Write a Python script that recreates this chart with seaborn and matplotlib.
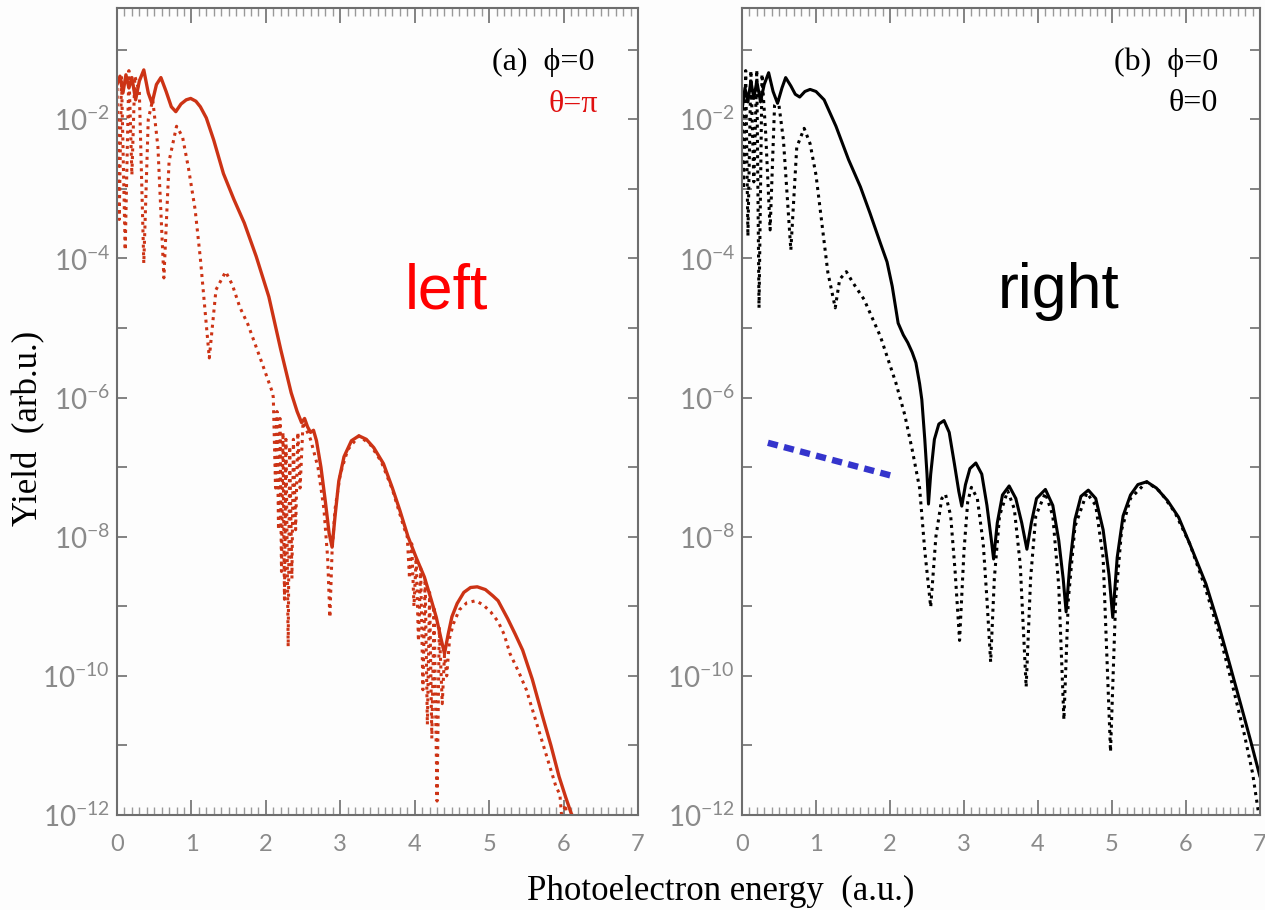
import numpy as np
import pandas as pd
import matplotlib
matplotlib.use("Agg")
import matplotlib.pyplot as plt
import matplotlib.ticker as mticker
import seaborn as sns

# ---------------- data: photoelectron energy (a.u.) and log10(yield) ----------------
# panel (a): phi = 0, theta = pi
a_solid_x = [0.00, 0.04, 0.08, 0.12, 0.16, 0.20, 0.25, 0.30, 0.36, 0.42, 0.47, 0.53, 0.59, 0.66,
             0.73, 0.79, 0.86, 0.93, 0.99, 1.06, 1.12, 1.20, 1.30, 1.43, 1.57, 1.71, 1.87, 2.04,
             2.20, 2.34, 2.42, 2.48, 2.52, 2.56, 2.60, 2.64, 2.68, 2.74, 2.80, 2.85, 2.89, 2.93,
             2.98, 3.05, 3.15, 3.25, 3.35, 3.45, 3.58, 3.70, 3.80, 3.91, 4.02, 4.13, 4.22, 4.29,
             4.35, 4.40, 4.45, 4.50, 4.57, 4.66, 4.75, 4.84, 4.95, 5.05, 5.12, 5.25, 5.35, 5.45,
             5.58, 5.72, 5.83, 5.94, 6.03, 6.11, 6.15]
a_solid_log = [-1.50, -1.38, -1.62, -1.36, -1.55, -1.40, -1.72, -1.45, -1.29, -1.62, -1.77, -1.50,
               -1.40, -1.60, -1.82, -1.89, -1.78, -1.72, -1.70, -1.74, -1.82, -1.98, -2.30, -2.78,
               -3.15, -3.49, -3.97, -4.55, -5.31, -5.93, -6.20, -6.36, -6.30, -6.42, -6.50, -6.47,
               -6.62, -7.00, -7.50, -7.95, -8.15, -7.70, -7.20, -6.85, -6.62, -6.55, -6.60, -6.72,
               -6.95, -7.30, -7.62, -8.00, -8.30, -8.58, -8.90, -9.16, -9.45, -9.68, -9.40, -9.15,
               -8.96, -8.80, -8.73, -8.72, -8.76, -8.85, -8.92, -9.18, -9.40, -9.63, -10.05, -10.59,
               -11.00, -11.45, -11.75, -12.00, -12.10]

a_dot_x = [0.00, 0.03, 0.06, 0.11, 0.16, 0.20, 0.24, 0.30, 0.36, 0.42, 0.48, 0.55, 0.63, 0.70,
           0.80, 0.88, 0.96, 1.05, 1.12, 1.24, 1.33, 1.46, 1.55, 1.65, 1.76, 1.93, 2.09,
           2.10, 2.13, 2.15, 2.17, 2.19, 2.21, 2.23, 2.25, 2.27, 2.30, 2.32, 2.35, 2.37, 2.40,
           2.43, 2.46, 2.50, 2.60, 2.70, 2.78, 2.83, 2.86, 2.89, 2.93, 3.00, 3.10, 3.25, 3.40,
           3.55, 3.70, 3.85, 3.90, 3.93, 3.96, 3.99, 4.02, 4.05, 4.08, 4.11, 4.14, 4.17, 4.20,
           4.23, 4.26, 4.30, 4.33, 4.37, 4.40, 4.43, 4.47, 4.52, 4.60, 4.70, 4.82, 4.92, 5.02,
           5.12, 5.20, 5.28, 5.40, 5.50, 5.60, 5.70, 5.80, 5.90, 5.95, 5.98, 6.02, 6.06, 6.12, 6.18]
a_dot_log = [-1.55, -3.44, -1.38, -3.88, -1.30, -2.80, -1.38, -1.60, -4.07, -2.00, -1.72, -2.40,
             -4.28, -2.60, -2.10, -2.25, -2.70, -3.30, -4.00, -5.43, -4.45, -4.19, -4.38, -4.70,
             -4.95, -5.45, -5.93,
             -6.00, -7.30, -6.20, -7.90, -6.30, -8.50, -6.50, -8.90, -6.60, -9.58, -6.70, -8.60,
             -6.60, -7.90, -6.50, -7.30, -6.35, -6.60, -7.00, -7.60, -8.30, -9.16, -8.20, -7.60,
             -7.10, -6.75, -6.55, -6.67, -6.92, -7.32, -7.85, -8.00, -8.60, -8.10, -9.00, -8.30,
             -9.50, -8.45, -10.20, -8.60, -10.70, -8.80, -10.90, -9.00, -11.80, -9.30, -10.40,
             -9.70, -10.00, -9.45, -9.25, -9.05, -8.95, -8.92, -8.98, -9.08, -9.22, -9.40, -9.68,
             -9.95, -10.20, -10.55, -10.90, -11.25, -11.60, -11.70, -12.10, -11.85, -12.10,
             -12.00, -12.10]

# panel (b): phi = 0, theta = 0
b_solid_x = [0.00, 0.04, 0.08, 0.12, 0.16, 0.20, 0.25, 0.30, 0.36, 0.42, 0.48, 0.54, 0.59, 0.66,
             0.72, 0.78, 0.85, 0.92, 1.00, 1.11, 1.27, 1.44, 1.60, 1.73, 1.87, 1.96, 2.03, 2.11,
             2.18, 2.24, 2.30, 2.35, 2.40, 2.43, 2.47, 2.50, 2.52, 2.55, 2.60, 2.66, 2.73, 2.80,
             2.87, 2.93, 2.97, 3.02, 3.08, 3.16, 3.24, 3.31, 3.37, 3.40, 3.45, 3.52, 3.61, 3.70,
             3.78, 3.85, 3.91, 3.98, 4.10, 4.20, 4.28, 4.34, 4.38, 4.43, 4.50, 4.58, 4.68, 4.78,
             4.88, 4.96, 5.01, 5.07, 5.15, 5.25, 5.35, 5.47, 5.60, 5.75, 5.90, 6.05, 6.27, 6.45,
             6.60, 6.75, 6.87, 7.00]
b_solid_log = [-1.87, -1.55, -1.75, -1.45, -1.70, -1.45, -1.75, -1.50, -1.33, -1.60, -1.77, -1.55,
               -1.40, -1.52, -1.64, -1.68, -1.60, -1.57, -1.60, -1.72, -2.10, -2.58, -2.97, -3.35,
               -3.78, -4.05, -4.40, -4.93, -5.10, -5.21, -5.35, -5.50, -5.80, -6.03, -6.60, -7.10,
               -7.53, -7.10, -6.60, -6.38, -6.33, -6.50, -6.95, -7.35, -7.56, -7.25, -7.02, -6.94,
               -7.10, -7.55, -8.05, -8.32, -7.80, -7.40, -7.27, -7.45, -7.80, -8.18, -7.80, -7.45,
               -7.32, -7.55, -8.05, -8.60, -9.08, -8.40, -7.75, -7.42, -7.33, -7.45, -7.90, -8.55,
               -9.16, -8.30, -7.70, -7.40, -7.25, -7.21, -7.30, -7.48, -7.72, -8.10, -8.68, -9.30,
               -9.87, -10.45, -10.92, -11.45]

b_dot_x = [0.00, 0.02, 0.05, 0.08, 0.12, 0.16, 0.20, 0.23, 0.27, 0.32, 0.38, 0.44, 0.49, 0.56,
           0.66, 0.74, 0.84, 0.92, 1.00, 1.08, 1.16, 1.26, 1.32, 1.41, 1.50, 1.65, 1.87, 2.08,
           2.20, 2.30, 2.40, 2.47, 2.55, 2.62, 2.70, 2.75, 2.82, 2.88, 2.94, 3.00, 3.05, 3.10,
           3.18, 3.26, 3.31, 3.36, 3.41, 3.48, 3.59, 3.68, 3.76, 3.84, 3.90, 3.97, 4.10, 4.20,
           4.28, 4.35, 4.41, 4.50, 4.66, 4.78, 4.88, 4.98, 5.05, 5.13, 5.25, 5.47, 5.65, 5.85,
           6.05, 6.25, 6.45, 6.62, 6.78, 6.90, 6.97, 7.00]
b_dot_log = [-1.60, -3.00, -1.30, -3.68, -1.30, -2.90, -1.29, -4.71, -1.35, -2.20, -3.59, -1.80,
             -1.72, -2.30, -3.88, -2.40, -2.13, -2.35, -2.80, -3.50, -4.20, -4.71, -4.30, -4.19,
             -4.35, -4.59, -5.12, -5.79, -6.25, -6.75, -7.30, -8.20, -9.01, -8.00, -7.45, -7.39,
             -7.70, -8.50, -9.49, -8.20, -7.50, -7.29, -7.45, -8.10, -8.90, -9.80, -8.60, -7.70,
             -7.34, -7.60, -8.40, -10.16, -8.60, -7.70, -7.37, -7.70, -8.70, -10.63, -8.90, -7.85,
             -7.37, -7.55, -8.30, -11.09, -8.90, -7.90, -7.45, -7.21, -7.35, -7.65, -8.10, -8.70,
             -9.40, -10.10, -10.80, -11.40, -11.90, -12.10]

# blue dashed guide in panel (b)
guide_x = [0.35, 2.08]
guide_log = [-6.65, -7.14]

# ---------------- styling ----------------
sns.set_style("white")
plt.rcParams["font.family"] = ["Lato", "DejaVu Sans"]
plt.rcParams["mathtext.fontset"] = "custom"
plt.rcParams["mathtext.rm"] = "Lato"

RED = "#cc3315"
SERIF = ["Liberation Serif", "DejaVu Serif"]
TICK_GRAY = "#8a8a8a"
SPINE_GRAY = "#6e6e6e"

fig = plt.figure(figsize=(12.65, 9.10), dpi=100, facecolor="#fdfdfd")
ax_a = fig.add_axes([117 / 1265, 1 - 815 / 910, 521 / 1265, 807 / 910])
ax_b = fig.add_axes([742 / 1265, 1 - 815 / 910, 518 / 1265, 807 / 910])


def frame(df_x, df_log):
    return pd.DataFrame({"energy": df_x, "yield": np.power(10.0, df_log)})


dot_style = dict(linestyle=(0, (1.0, 1.5)), linewidth=2.2, dash_capstyle="butt")

sns.lineplot(data=frame(a_dot_x, a_dot_log), x="energy", y="yield", ax=ax_a,
             color=RED, estimator=None, sort=False, **dot_style)
sns.lineplot(data=frame(a_solid_x, a_solid_log), x="energy", y="yield", ax=ax_a,
             color=RED, estimator=None, sort=False, linewidth=2.4)

sns.lineplot(data=frame(b_dot_x, b_dot_log), x="energy", y="yield", ax=ax_b,
             color="black", estimator=None, sort=False, **dot_style)
sns.lineplot(data=frame(b_solid_x, b_solid_log), x="energy", y="yield", ax=ax_b,
             color="black", estimator=None, sort=False, linewidth=2.2)
sns.lineplot(data=frame(guide_x, guide_log), x="energy", y="yield", ax=ax_b,
             color="#3434cc", estimator=None, sort=False, linewidth=4.6,
             linestyle=(0, (1.6, 1.0)), dash_capstyle="butt")


def sci_label(v, pos):
    e = int(round(np.log10(v)))
    if e % 2 == 0:
        return r"$\mathdefault{10^{%d}}$" % e
    return ""


for ax in (ax_a, ax_b):
    ax.set_yscale("log")
    ax.set_xlim(0, 7)
    ax.set_ylim(10 ** -12.0, 10 ** -0.40)
    ax.set_facecolor("#fdfdfd")
    ax.xaxis.set_major_locator(mticker.MultipleLocator(1))
    ax.xaxis.set_minor_locator(mticker.MultipleLocator(0.1))
    ax.yaxis.set_major_locator(mticker.FixedLocator([10.0 ** k for k in range(-12, 0)]))
    ax.yaxis.set_minor_locator(mticker.NullLocator())
    ax.yaxis.set_major_formatter(mticker.FuncFormatter(sci_label))
    ax.xaxis.set_major_formatter(mticker.FormatStrFormatter("%d"))
    ax.tick_params(axis="x", which="major", direction="in", top=True, bottom=True,
                   length=11, width=1.2, color=SPINE_GRAY, labelcolor=TICK_GRAY,
                   labelsize=17, pad=14)
    ax.tick_params(axis="x", which="minor", direction="in", top=True, bottom=True,
                   length=6, width=1.0, color="#999999")
    ax.tick_params(axis="y", which="major", direction="in", left=True, right=True,
                   length=7, width=1.2, color=SPINE_GRAY, labelcolor=TICK_GRAY,
                   labelsize=20, pad=5)
    for s in ax.spines.values():
        s.set_visible(True)
        s.set_color(SPINE_GRAY)
        s.set_linewidth(1.5)
    ax.set_xlabel("")
    ax.set_ylabel("")

# panel annotations
ax_a.text(0.917, 0.933, "(a)  ϕ=0", transform=ax_a.transAxes, ha="right", va="center",
          fontsize=23, family=SERIF, color="black")
ax_a.text(0.923, 0.880, "θ=π", transform=ax_a.transAxes, ha="right", va="center",
          fontsize=23, family=SERIF, color="#e01010")
ax_b.text(0.919, 0.933, "(b)  ϕ=0", transform=ax_b.transAxes, ha="right", va="center",
          fontsize=23, family=SERIF, color="black")
ax_b.text(0.919, 0.882, "θ=0", transform=ax_b.transAxes, ha="right", va="center",
          fontsize=23, family=SERIF, color="black")

ax_a.text(0.632, 0.628, "left", transform=ax_a.transAxes, ha="center", va="baseline",
          fontsize=45, family=["Liberation Sans", "DejaVu Sans"], color="#ff0000")
ax_b.text(0.612, 0.628, "right", transform=ax_b.transAxes, ha="center", va="baseline",
          fontsize=45, family=["Liberation Sans", "DejaVu Sans"], color="black")

# shared axis titles
fig.text(721 / 1265, 1 - 891 / 910, "Photoelectron energy  (a.u.)", ha="center", va="center",
         fontsize=25, family=SERIF, color="black")
fig.text(29 / 1265, 1 - 428 / 910, "Yield  (arb.u.)", ha="center", va="center",
         rotation=90, fontsize=25, family=SERIF, color="black")

fig.savefig("out.png", dpi=100, facecolor=fig.get_facecolor())
